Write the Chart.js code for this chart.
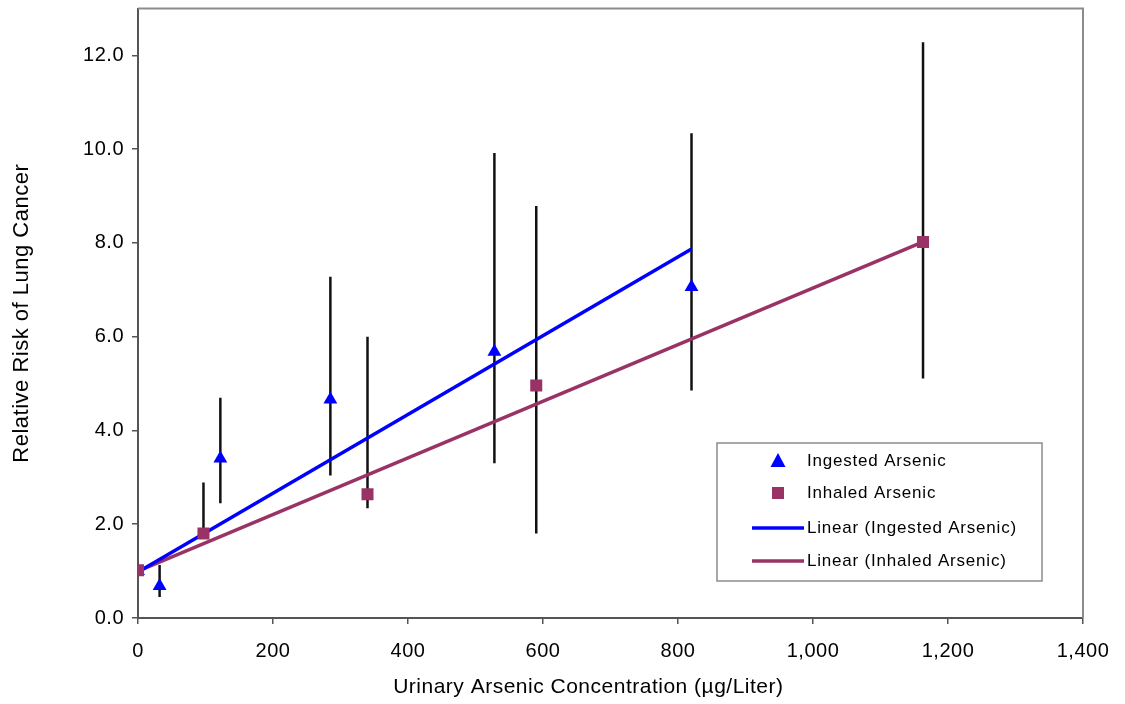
<!DOCTYPE html>
<html>
<head>
<meta charset="utf-8">
<script src="https://cdn.jsdelivr.net/npm/chart.js@4.4.1/dist/chart.umd.min.js"></script>
<style>
  html, body { margin: 0; padding: 0; background: #fff; }
  #wrap { width: 1125px; height: 704px; }
</style>
</head>
<body>
<div id="wrap"><canvas id="myChart" width="1125" height="704"></canvas></div>
<script>
// values
const ingestedX = [0, 32, 122, 285, 528, 820];
const ingestedY = [1.0, 0.68, 3.4, 4.66, 5.68, 7.06];
const ingestedLow = [1.0, 0.45, 2.45, 3.04, 3.3, 4.85];
const ingestedHigh = [1.0, 1.13, 4.7, 7.28, 9.92, 10.34];

const inhaledX = [0, 97, 340, 590, 1163];
const inhaledY = [1.02, 1.8, 2.64, 4.96, 8.02];
const inhaledLow = [1.02, 1.7, 2.34, 1.8, 5.11];
const inhaledHigh = [1.02, 2.89, 6.0, 8.79, 12.28];

// trend line end points
const ingestedTrendX = [0, 820];
const ingestedTrendY = [0.98, 7.87];
const inhaledTrendX = [0, 1163];
const inhaledTrendY = [1.0, 8.02];

const legendLabels = ["Ingested Arsenic", "Inhaled Arsenic", "Linear (Ingested Arsenic)", "Linear (Inhaled Arsenic)"];

const blue = "#0000ff";
const purple = "#993366";
const font = "'Liberation Sans', Arial, sans-serif";

function points(xs, ys) {
  return xs.map((x, i) => ({ x: x, y: ys[i] }));
}

// error bars as gapped line segments
function errorBars(xs, lo, hi) {
  let out = [];
  for (let i = 0; i < xs.length; i++) {
    if (hi[i] === lo[i]) continue;
    out.push({ x: xs[i], y: lo[i] });
    out.push({ x: xs[i], y: hi[i] });
    out.push({ x: xs[i], y: null });
  }
  return out;
}

const errStyle = {
  type: "line",
  borderColor: "#111",
  borderWidth: 2.5,
  pointRadius: 0,
  spanGaps: false,
  fill: false,
  order: 5,
};

const data = {
  datasets: [
    Object.assign({ label: "err ingested", data: errorBars(ingestedX, ingestedLow, ingestedHigh) }, errStyle),
    Object.assign({ label: "err inhaled", data: errorBars(inhaledX, inhaledLow, inhaledHigh) }, errStyle),
    {
      type: "line",
      label: legendLabels[3],
      data: points(inhaledTrendX, inhaledTrendY),
      borderColor: purple,
      borderWidth: 3.5,
      pointRadius: 0,
      order: 4,
    },
    {
      type: "line",
      label: legendLabels[2],
      data: points(ingestedTrendX, ingestedTrendY),
      borderColor: blue,
      borderWidth: 3.5,
      pointRadius: 0,
      order: 3,
    },
    {
      label: legendLabels[0],
      data: points(ingestedX, ingestedY),
      pointStyle: "triangle",
      pointRadius: 8,
      backgroundColor: blue,
      borderColor: blue,
      borderWidth: 0,
      order: 2,
    },
    {
      label: legendLabels[1],
      data: points(inhaledX, inhaledY),
      pointStyle: "rect",
      pointRadius: 8.5,
      backgroundColor: purple,
      borderColor: purple,
      borderWidth: 0,
      order: 1,
    },
  ],
};

// the original text is a bit spaced out
const spacing = {
  id: "spacing",
  beforeLayout(chart) { chart.ctx.letterSpacing = "0.5px"; },
  beforeDraw(chart) { chart.ctx.letterSpacing = "0.5px"; },
};

// light frame on top and right of plot area
const frame = {
  id: "frame",
  beforeDatasetsDraw(chart) {
    const a = chart.chartArea;
    const ctx = chart.ctx;
    ctx.save();
    ctx.strokeStyle = "#8c8c8c";
    ctx.lineWidth = 2;
    ctx.beginPath();
    ctx.moveTo(a.left, a.top);
    ctx.lineTo(a.right, a.top);
    ctx.lineTo(a.right, a.bottom);
    ctx.stroke();
    ctx.restore();
  },
};

// legend box inside the plot like the original
const boxLegend = {
  id: "boxLegend",
  afterDraw(chart) {
    const ctx = chart.ctx;
    const x0 = 717, y0 = 443, w = 325, h = 138;
    ctx.save();
    ctx.fillStyle = "#fff";
    ctx.fillRect(x0, y0, w, h);
    ctx.strokeStyle = "#8c8c8c";
    ctx.lineWidth = 1.5;
    ctx.strokeRect(x0, y0, w, h);

    const rows = [461, 493, 528, 561];
    const mx = 778;
    // triangle
    ctx.fillStyle = blue;
    ctx.beginPath();
    ctx.moveTo(mx, rows[0] - 8);
    ctx.lineTo(mx + 7.5, rows[0] + 6);
    ctx.lineTo(mx - 7.5, rows[0] + 6);
    ctx.closePath();
    ctx.fill();
    // square
    ctx.fillStyle = purple;
    ctx.fillRect(mx - 6, rows[1] - 6, 12, 12);
    // lines
    ctx.lineWidth = 3.5;
    ctx.strokeStyle = blue;
    ctx.beginPath();
    ctx.moveTo(752, rows[2]);
    ctx.lineTo(804, rows[2]);
    ctx.stroke();
    ctx.strokeStyle = purple;
    ctx.beginPath();
    ctx.moveTo(752, rows[3]);
    ctx.lineTo(804, rows[3]);
    ctx.stroke();

    ctx.fillStyle = "#000";
    ctx.font = "17px " + font;
    ctx.letterSpacing = "0.8px";
    ctx.textBaseline = "middle";
    ctx.textAlign = "left";
    legendLabels.forEach((t, i) => {
      ctx.fillText(t, 807, rows[i]);
    });
    ctx.restore();
  },
};

const config = {
  type: "scatter",
  data: data,
  options: {
    responsive: false,
    animation: false,
    layout: {
      padding: { top: 8, right: 42, left: 0, bottom: 0 },
    },
    plugins: {
      legend: { display: false },
      tooltip: { enabled: false },
    },
    scales: {
      x: {
        type: "linear",
        min: 0,
        max: 1400,
        afterFit: (s) => { s.height = 86; },
        ticks: {
          stepSize: 200,
          color: "#000",
          font: { family: font, size: 20 },
          padding: 15,
          maxRotation: 0,
          callback: (v) => v.toLocaleString("en-US"),
        },
        grid: {
          drawOnChartArea: false,
          tickLength: 6,
          color: "#555",
          lineWidth: 1.5,
        },
        border: { color: "#555", width: 2 },
        title: {
          display: true,
          // trailing spaces nudge the centred title left like the original
          text: "Urinary Arsenic Concentration (\u00b5g/Liter)" + "\u00a0".repeat(7),
          color: "#000",
          font: { family: font, size: 21 },
          padding: { top: 0, bottom: 4 },
        },
      },
      y: {
        type: "linear",
        min: 0,
        max: 13,
        afterFit: (s) => {
          s.width = 138;
          s.paddingTop = 0;
          s.paddingBottom = 0;
        },
        afterBuildTicks: (s) => {
          s.ticks = s.ticks.filter((t) => t.value <= 12);
        },
        ticks: {
          stepSize: 2,
          color: "#000",
          font: { family: font, size: 20 },
          padding: 8,
          callback: (v) => v.toFixed(1),
        },
        grid: {
          drawOnChartArea: false,
          tickLength: 6,
          color: "#555",
          lineWidth: 1.5,
        },
        border: { color: "#555", width: 2 },
        title: {
          display: true,
          text: "Relative Risk of Lung Cancer",
          color: "#000",
          font: { family: font, size: 22 },
          padding: { top: 9, bottom: 0 },
        },
      },
    },
  },
  plugins: [spacing, frame, boxLegend],
};

const myChart = new Chart(document.getElementById("myChart"), config);
</script>
</body>
</html>
